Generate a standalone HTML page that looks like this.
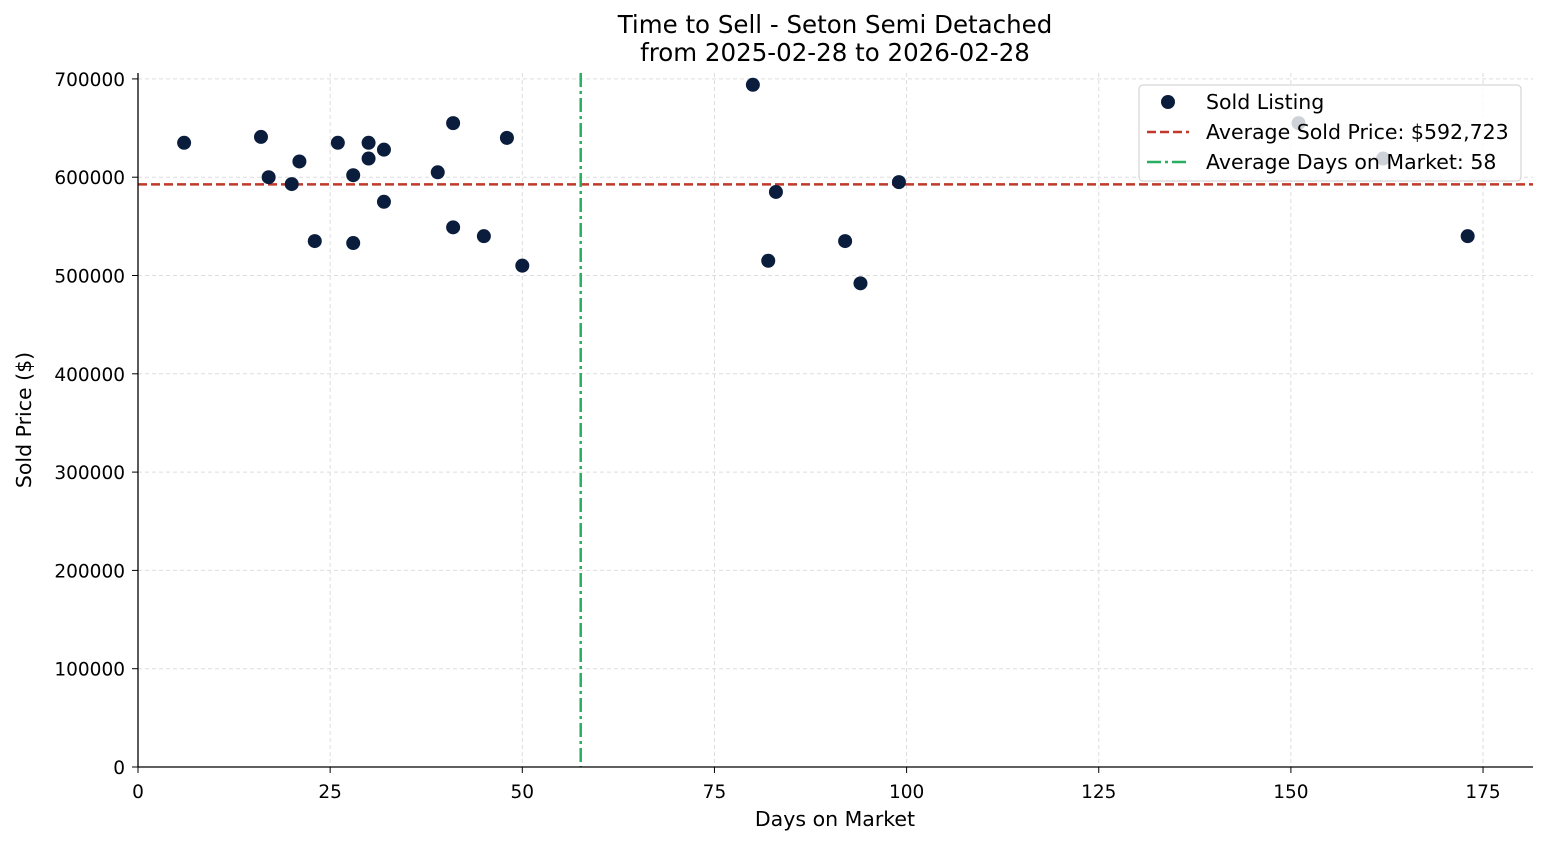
<!DOCTYPE html>
<html><head><meta charset="utf-8"><style>
html,body{margin:0;padding:0;background:#fff}
svg{display:block;font-family:"DejaVu Sans","Liberation Sans",sans-serif}
</style></head><body>
<svg id="chart" width="1547" height="845" viewBox="0 0 1547 845">
<text x="835" y="33" font-size="24.5" text-anchor="middle">Time to Sell - Seton Semi Detached</text>
<text x="835" y="61" font-size="24.5" text-anchor="middle">from 2025-02-28 to 2026-02-28</text>
<g id="grid"></g>
<g id="refs"></g>
<g id="points"></g>
<g id="axes"></g>
<text x="835" y="826" font-size="20.5" text-anchor="middle">Days on Market</text>
<text x="31" y="420" font-size="20.5" text-anchor="middle" transform="rotate(-90 31 420)">Sold Price ($)</text>
<g id="legend">
<rect x="1139" y="85" width="382" height="96" rx="4" fill="#fff" fill-opacity="0.8" stroke="#ccc"/>
<circle cx="1168" cy="102" r="7" fill="#0b1d3d"/>
<text x="1206" y="109" font-size="20.5">Sold Listing</text>
<line x1="1147" y1="132" x2="1189" y2="132" stroke="#c0392b" stroke-width="2.5" stroke-dasharray="9,4"/>
<text x="1206" y="139" font-size="20.5">Average Sold Price: $592,723</text>
<line x1="1147" y1="162" x2="1189" y2="162" stroke="#27ae60" stroke-width="2.5" stroke-dasharray="14,4,3,4"/>
<text x="1206" y="169" font-size="20.5">Average Days on Market: 58</text>
</g>
</svg>
<script>
const days=[6,16,17,20,21,23,26,28,28,30,30,32,32,39,41,41,45,48,50,80,82,83,92,94,99,151,162,173];
const prices=[635000,641000,600000,593000,616000,535000,635000,602000,533000,635000,619000,628000,575000,605000,655000,549000,540000,640000,510000,694000,515000,585000,535000,492000,595000,655000,619000,540000];
const xTicks=[0,25,50,75,100,125,150,175];
const yTicks=[0,100000,200000,300000,400000,500000,600000,700000];
const avgPrice=592723;
const avgDays=57.6;
const NS="http://www.w3.org/2000/svg";
const L=138,R=1533,T=73,B=767;
const xMax=181.5,yMax=706000;
const xs=v=>L+v/xMax*(R-L);
const ys=v=>B-v/yMax*(B-T);
function mk(tag,attrs,parent){const e=document.createElementNS(NS,tag);for(const k in attrs)e.setAttribute(k,attrs[k]);document.getElementById(parent).appendChild(e);return e;}
xTicks.forEach(t=>{
 const g=mk('line',{x1:xs(t),x2:xs(t),y1:T,y2:B,stroke:'#ddd','stroke-dasharray':'4,3','stroke-width':1},'grid');
 
 
 const k=mk('line',{x1:xs(t),x2:xs(t),y1:B,y2:B+6,stroke:'#000'},'axes');
 
 
 const l=mk('text',{x:xs(t),y:B+31,'font-size':18.5,'text-anchor':'middle'},'axes');l.textContent=t;
 
 
});
yTicks.forEach(t=>{
 const g=mk('line',{x1:L,x2:R,y1:ys(t),y2:ys(t),stroke:'#ddd','stroke-dasharray':'4,3','stroke-width':1},'grid');
 
 
 const k=mk('line',{x1:L-6,x2:L,y1:ys(t),y2:ys(t),stroke:'#000'},'axes');
 
 
 const l=mk('text',{x:L-13,y:ys(t)+7,'font-size':18.5,'text-anchor':'end'},'axes');l.textContent=t;
 
 
});
const ax=mk('path',{d:`M${L},${T} V${B} H${R}`,fill:'none',stroke:'#000','stroke-width':1.3},'axes');


days.forEach((d,i)=>{
 const c=mk('circle',{cx:xs(d),cy:ys(prices[i]),r:7,fill:'#0b1d3d'},'points');
 
 
});
const hp=mk('line',{x1:L,x2:R,y1:ys(avgPrice),y2:ys(avgPrice),stroke:'#c0392b','stroke-width':2.5,'stroke-dasharray':'9,4'},'refs');


const vd=mk('line',{x1:xs(avgDays),x2:xs(avgDays),y1:T,y2:B,stroke:'#27ae60','stroke-width':2.5,'stroke-dasharray':'14,4,3,4'},'refs');


</script>
</body></html>
